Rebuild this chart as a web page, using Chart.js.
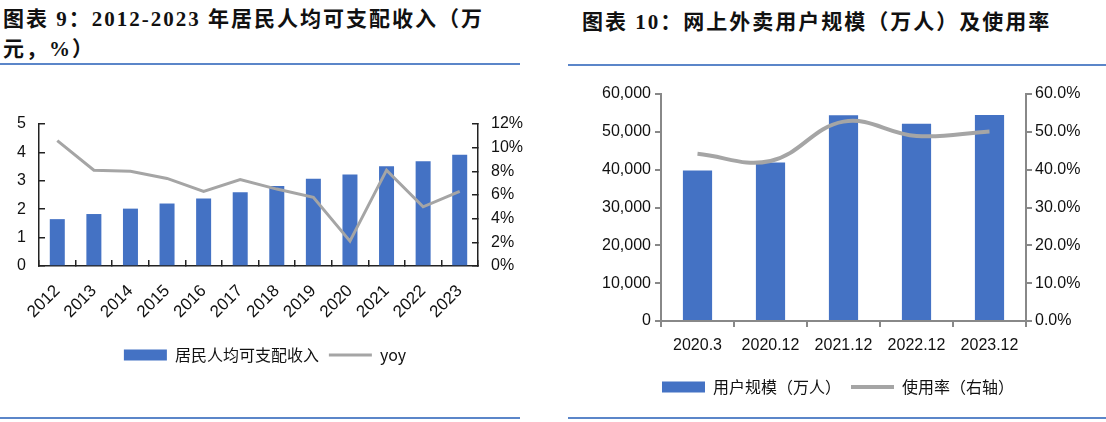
<!DOCTYPE html>
<html lang="zh">
<head>
<meta charset="UTF-8">
<title>居民人均可支配收入 / 网上外卖用户规模</title>
<style>
    body {
        margin: 0;
        width: 1106px;
        height: 422px;
        background: #fff;
        position: relative;
        overflow: hidden;
        font-family: 'Liberation Sans', 'Noto Sans CJK SC', sans-serif;
    }
    .title {
        position: absolute;
        font-family: 'Liberation Serif', 'Noto Sans CJK SC', serif;
        font-weight: bold;
        font-size: 21px;
        line-height: 30px;
        letter-spacing: 2px;
        color: #111;
        white-space: nowrap;
    }
    .rule {
        position: absolute;
        height: 2px;
        background: #5b86c9;
    }
    canvas { position: absolute; }
</style>
</head>
<body>
    <div class="title" style="left:3px; top:4px;">图表 9：2012-2023 年居民人均可支配收入（万<br>元，%）</div>
    <div class="title" style="left:582px; top:7px;">图表 10：网上外卖用户规模（万人）及使用率</div>
    <div class="rule" style="left:0; width:520px; top:63px;"></div>
    <div class="rule" style="left:568px; width:538px; top:64px;"></div>
    <div class="rule" style="left:0; width:520px; top:417px;"></div>
    <div class="rule" style="left:568px; width:538px; top:417px;"></div>

    <canvas id="incomeChart" width="530" height="330" style="left:0; top:80px;"></canvas>
    <canvas id="takeoutChart" width="536" height="330" style="left:570px; top:80px;"></canvas>

    <script src="https://cdn.jsdelivr.net/npm/chart.js"></script>
    <script>
        // chart 9: income per capita (10k yuan) and yoy (%)
        const years = ['2012', '2013', '2014', '2015', '2016', '2017', '2018', '2019', '2020', '2021', '2022', '2023'];
        const income = [1.65, 1.83, 2.02, 2.20, 2.38, 2.60, 2.82, 3.07, 3.22, 3.51, 3.69, 3.92];
        const incomeYoy = [10.6, 8.1, 8.0, 7.4, 6.3, 7.3, 6.5, 5.8, 2.1, 8.1, 5.0, 6.3];

        // chart 10: online takeout users (10k people) and usage rate (%)
        const periods = ['2020.3', '2020.12', '2021.12', '2022.12', '2023.12'];
        const users = [39780, 41883, 54416, 52116, 54454];
        const usageRate = [44.2, 42.3, 52.7, 48.9, 50.1];

        const BLUE = '#4472c4';
        const GREY = '#a5a5a5';
        const cjkFont = "'Noto Sans CJK SC', 'Liberation Sans', sans-serif";
        const numFont = "'Liberation Sans', Arial, sans-serif";

        Chart.defaults.animation = false;
        Chart.defaults.responsive = false;

        // legend: bar first, line second, line drawn on top
        const legendOpts = {
            position: 'bottom',
            labels: {
                usePointStyle: true,
                pointStyleWidth: 43,
                boxHeight: 11,
                padding: 10,
                color: '#111',
                font: { family: cjkFont, size: 16 },
                sort: (a, b) => b.datasetIndex - a.datasetIndex
            }
        };

        new Chart(document.getElementById('incomeChart'), {
            type: 'bar',
            data: {
                labels: years,
                datasets: [{
                    type: 'line',
                    label: 'yoy',
                    data: incomeYoy,
                    yAxisID: 'y1',
                    borderColor: GREY,
                    backgroundColor: GREY,
                    borderWidth: 3,
                    pointRadius: 0,
                    pointStyle: 'line',
                    tension: 0
                }, {
                    label: '居民人均可支配收入',
                    data: income,
                    yAxisID: 'y',
                    backgroundColor: BLUE,
                    pointStyle: 'rect',
                    barPercentage: 0.41,
                    categoryPercentage: 1
                }]
            },
            options: {
                layout: { padding: { top: 44, bottom: 37, left: 0, right: 0 } },
                plugins: { legend: legendOpts, tooltip: { enabled: false } },
                scales: {
                    x: {
                        grid: { drawOnChartArea: false, tickLength: -6, color: '#222', lineWidth: 1.5 },
                        border: { color: '#222', width: 1.5 },
                        ticks: { color: '#111', font: { family: numFont, size: 17 }, minRotation: 45, maxRotation: 45, padding: 21 },
                        afterFit: s => { s.height = 71; }
                    },
                    y: {
                        position: 'left',
                        min: 0, max: 5,
                        grid: { drawOnChartArea: false, tickLength: -6, color: '#222', lineWidth: 1.5 },
                        border: { color: '#222', width: 1.5 },
                        ticks: { stepSize: 1, color: '#111', font: { family: numFont, size: 16 }, padding: 19 },
                        afterFit: s => { s.width = 39; }
                    },
                    y1: {
                        position: 'right',
                        min: 0, max: 12,
                        grid: { drawOnChartArea: false, tickLength: -6, color: '#222', lineWidth: 1.5 },
                        border: { color: '#222', width: 1.5 },
                        ticks: { stepSize: 2, color: '#111', font: { family: numFont, size: 16 }, padding: 19, callback: v => v + '%' },
                        afterFit: s => { s.width = 52; }
                    }
                }
            }
        });

        new Chart(document.getElementById('takeoutChart'), {
            type: 'bar',
            data: {
                labels: periods,
                datasets: [{
                    type: 'line',
                    label: '使用率（右轴）',
                    data: usageRate,
                    yAxisID: 'y1',
                    borderColor: GREY,
                    backgroundColor: GREY,
                    borderWidth: 4,
                    pointRadius: 0,
                    pointStyle: 'line',
                    tension: 0.4
                }, {
                    label: '用户规模（万人）',
                    data: users,
                    yAxisID: 'y',
                    backgroundColor: BLUE,
                    pointStyle: 'rect',
                    barPercentage: 0.4,
                    categoryPercentage: 1
                }]
            },
            options: {
                layout: { padding: { top: 14, bottom: 5, left: 0, right: 0 } },
                plugins: { legend: legendOpts, tooltip: { enabled: false } },
                scales: {
                    x: {
                        grid: { drawOnChartArea: false, tickLength: 6, color: '#888', lineWidth: 2 },
                        border: { color: '#888', width: 2 },
                        ticks: { color: '#111', font: { family: numFont, size: 16 }, maxRotation: 0, padding: 9 },
                        afterFit: s => { s.height = 48; }
                    },
                    y: {
                        position: 'left',
                        min: 0, max: 60000,
                        grid: { drawOnChartArea: false, tickLength: 6, color: '#888', lineWidth: 2 },
                        border: { color: '#888', width: 2 },
                        ticks: { stepSize: 10000, color: '#111', font: { family: numFont, size: 16 }, padding: 4,
                                 callback: v => v.toLocaleString('en-US') },
                        afterFit: s => { s.width = 91; }
                    },
                    y1: {
                        position: 'right',
                        min: 0, max: 60,
                        grid: { drawOnChartArea: false, tickLength: 6, color: '#888', lineWidth: 2 },
                        border: { color: '#888', width: 2 },
                        ticks: { stepSize: 10, color: '#111', font: { family: numFont, size: 16 }, padding: 3,
                                 callback: v => v.toFixed(1) + '%' },
                        afterFit: s => { s.width = 80; }
                    }
                }
            }
        });
    </script>
</body>
</html>
